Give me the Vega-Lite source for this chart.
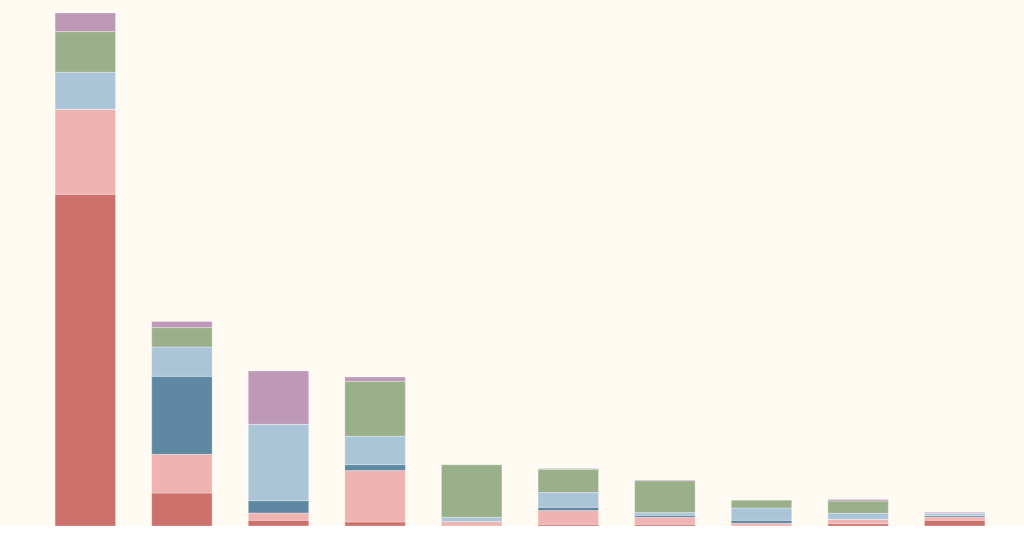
{
  "$schema": "https://vega.github.io/schema/vega-lite/v6.json",
  "width": 1010,
  "height": 526,
  "autosize": {"type": "none"},
  "padding": {"left": 15, "top": 0, "right": 0, "bottom": 0},
  "background": "#fffbf3",
  "config": {"view": {"stroke": null}},
  "data": {
    "values": [
      {"cat": "A", "series": "red", "k": 1, "v": 331.7},
      {"cat": "A", "series": "pink", "k": 2, "v": 85},
      {"cat": "A", "series": "darkblue", "k": 3, "v": 0},
      {"cat": "A", "series": "lightblue", "k": 4, "v": 37},
      {"cat": "A", "series": "green", "k": 5, "v": 40.7},
      {"cat": "A", "series": "purple", "k": 6, "v": 18.6},
      {"cat": "B", "series": "red", "k": 1, "v": 33},
      {"cat": "B", "series": "pink", "k": 2, "v": 38.7},
      {"cat": "B", "series": "darkblue", "k": 3, "v": 78},
      {"cat": "B", "series": "lightblue", "k": 4, "v": 29.3},
      {"cat": "B", "series": "green", "k": 5, "v": 19.4},
      {"cat": "B", "series": "purple", "k": 6, "v": 6},
      {"cat": "C", "series": "red", "k": 1, "v": 5.7},
      {"cat": "C", "series": "pink", "k": 2, "v": 7.3},
      {"cat": "C", "series": "darkblue", "k": 3, "v": 12.4},
      {"cat": "C", "series": "lightblue", "k": 4, "v": 76.3},
      {"cat": "C", "series": "green", "k": 5, "v": 0},
      {"cat": "C", "series": "purple", "k": 6, "v": 53.3},
      {"cat": "D", "series": "red", "k": 1, "v": 4},
      {"cat": "D", "series": "pink", "k": 2, "v": 51.4},
      {"cat": "D", "series": "darkblue", "k": 3, "v": 6},
      {"cat": "D", "series": "lightblue", "k": 4, "v": 28.3},
      {"cat": "D", "series": "green", "k": 5, "v": 55},
      {"cat": "D", "series": "purple", "k": 6, "v": 4.3},
      {"cat": "E", "series": "red", "k": 1, "v": 0},
      {"cat": "E", "series": "pink", "k": 2, "v": 4.4},
      {"cat": "E", "series": "darkblue", "k": 3, "v": 0},
      {"cat": "E", "series": "lightblue", "k": 4, "v": 4.3},
      {"cat": "E", "series": "green", "k": 5, "v": 52.7},
      {"cat": "E", "series": "purple", "k": 6, "v": 0},
      {"cat": "F", "series": "red", "k": 1, "v": 1.7},
      {"cat": "F", "series": "pink", "k": 2, "v": 13.7},
      {"cat": "F", "series": "darkblue", "k": 3, "v": 3.3},
      {"cat": "F", "series": "lightblue", "k": 4, "v": 14.7},
      {"cat": "F", "series": "green", "k": 5, "v": 23.3},
      {"cat": "F", "series": "purple", "k": 6, "v": 0.7},
      {"cat": "G", "series": "red", "k": 1, "v": 1.7},
      {"cat": "G", "series": "pink", "k": 2, "v": 7},
      {"cat": "G", "series": "darkblue", "k": 3, "v": 2},
      {"cat": "G", "series": "lightblue", "k": 4, "v": 2.7},
      {"cat": "G", "series": "green", "k": 5, "v": 31.9},
      {"cat": "G", "series": "purple", "k": 6, "v": 0.7},
      {"cat": "H", "series": "red", "k": 1, "v": 0},
      {"cat": "H", "series": "pink", "k": 2, "v": 2.7},
      {"cat": "H", "series": "darkblue", "k": 3, "v": 3},
      {"cat": "H", "series": "lightblue", "k": 4, "v": 12.3},
      {"cat": "H", "series": "green", "k": 5, "v": 8},
      {"cat": "H", "series": "purple", "k": 6, "v": 0},
      {"cat": "I", "series": "red", "k": 1, "v": 2.4},
      {"cat": "I", "series": "pink", "k": 2, "v": 4.3},
      {"cat": "I", "series": "darkblue", "k": 3, "v": 0},
      {"cat": "I", "series": "lightblue", "k": 4, "v": 6},
      {"cat": "I", "series": "green", "k": 5, "v": 12.3},
      {"cat": "I", "series": "purple", "k": 6, "v": 1.4},
      {"cat": "J", "series": "red", "k": 1, "v": 5.7},
      {"cat": "J", "series": "pink", "k": 2, "v": 3.3},
      {"cat": "J", "series": "darkblue", "k": 3, "v": 1.4},
      {"cat": "J", "series": "lightblue", "k": 4, "v": 2.4},
      {"cat": "J", "series": "green", "k": 5, "v": 0},
      {"cat": "J", "series": "purple", "k": 6, "v": 1}
    ]
  },
  "mark": {"type": "bar", "stroke": "#ffffff", "strokeWidth": 1, "strokeOpacity": 0.3},
  "encoding": {
    "x": {
      "field": "cat",
      "type": "nominal",
      "scale": {"paddingInner": 0.374, "paddingOuter": 0.415},
      "axis": {"labels": false, "ticks": false, "title": null, "domain": true, "domainColor": "#dddddd", "domainWidth": 1, "offset": 9}
    },
    "y": {
      "field": "v",
      "type": "quantitative",
      "stack": "zero",
      "scale": {"domain": [0, 526], "nice": false},
      "axis": null
    },
    "order": {"field": "k", "type": "quantitative", "sort": "ascending"},
    "color": {
      "field": "series",
      "type": "nominal",
      "scale": {
        "domain": ["red", "pink", "darkblue", "lightblue", "green", "purple"],
        "range": ["#cc716c", "#efb3b1", "#5f89a2", "#aac5d8", "#9ab08a", "#bd98b7"]
      },
      "legend": null
    }
  }
}
